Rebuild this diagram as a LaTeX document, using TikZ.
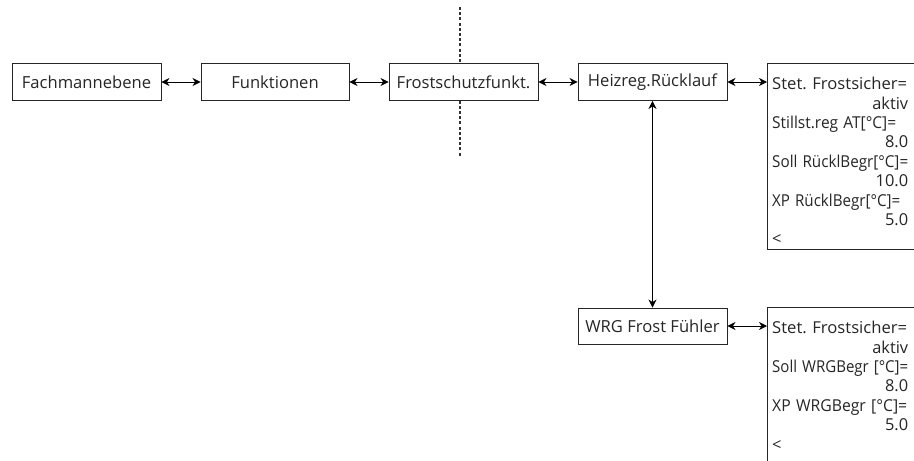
\documentclass[tikz,border=0pt]{standalone}
\usepackage{fontspec}
\usepackage{graphicx}
\setmainfont{Open Sans}
\usetikzlibrary{arrows.meta}
\newcommand{\lline}[2]{\makebox[136pt][l]{\resizebox{#1}{\height}{#2}}}
\newcommand{\rline}[1]{\makebox[136pt][r]{#1}}
\tikzset{
  menubox/.style={draw=black!85, line width=0.9pt, fill=white, minimum width=149pt, minimum height=37pt, inner sep=0pt, font=\fontsize{16.6}{19}\selectfont, text=black!85},
  listbox/.style={draw=black!85, line width=0.9pt, fill=white, anchor=north west, minimum width=170pt, inner sep=0pt},
  listtext/.style={anchor=north west, inner sep=0pt, text width=136pt, font=\frenchspacing\fontsize{16.4}{19.4}\selectfont, text=black!85},
  link/.style={line width=0.9pt, {Stealth[length=8pt,width=8pt,inset=2.5pt]}-{Stealth[length=8pt,width=8pt,inset=2.5pt]}},
  cut/.style={line width=1.3pt, dash pattern=on 3pt off 2.2pt, black!80}
}
\begin{document}
\begin{tikzpicture}[x=1pt,y=-1pt]
\useasboundingbox (0,0) rectangle (914,461);
\clip (0,0) rectangle (914,461);
\coordinate (cuttop) at (460,7);
\coordinate (cutbot) at (460,157);
\draw[cut] (cuttop) -- (cutbot);
\node[menubox] (fach) at (86.5,82) {Fachmannebene};
\node[menubox, minimum width=148pt] (funk) at (275,82) {Funktionen};
\node[menubox] (frost) at (463.5,82) {Frostschutzfunkt.};
\node[menubox] (heiz) at (652.5,82) {Heizreg.Rücklauf};
\node[menubox, minimum height=36pt] (wrg) at (652.5,326) {WRG Frost Fühler};
\node[listbox, minimum height=186pt] (r1) at (767,63) {};
\node[listbox, minimum height=200pt] (r2) at (767,307) {};
\node[listtext] (t1) at (772,77) {\lline{135pt}{Stet. Frostsicher=}\\
\rline{aktiv}\\
\lline{124pt}{Stillst.reg AT[°C]=}\\
\rline{8.0}\\
\lline{136pt}{Soll RücklBegr[°C]=}\\
\rline{10.0}\\
\lline{128pt}{XP RücklBegr[°C]=}\\
\rline{5.0}\\
\makebox[136pt][l]{<}};
\node[listtext] (t2) at (772,321) {\lline{135pt}{Stet. Frostsicher=}\\
\rline{aktiv}\\
\lline{136pt}{Soll WRGBegr [°C]=}\\
\rline{8.0}\\
\lline{135pt}{XP WRGBegr [°C]=}\\
\rline{5.0}\\
\makebox[136pt][l]{<}};
\draw[link] (fach.east) -- (funk.west);
\draw[link] (funk.east) -- (frost.west);
\draw[link] (frost.east) -- (heiz.west);
\draw[link] (heiz.east) -- (heiz.east -| r1.west);
\draw[link] (heiz.south) -- (wrg.north);
\draw[link] (wrg.east) -- (wrg.east -| r2.west);
\end{tikzpicture}
\end{document}
